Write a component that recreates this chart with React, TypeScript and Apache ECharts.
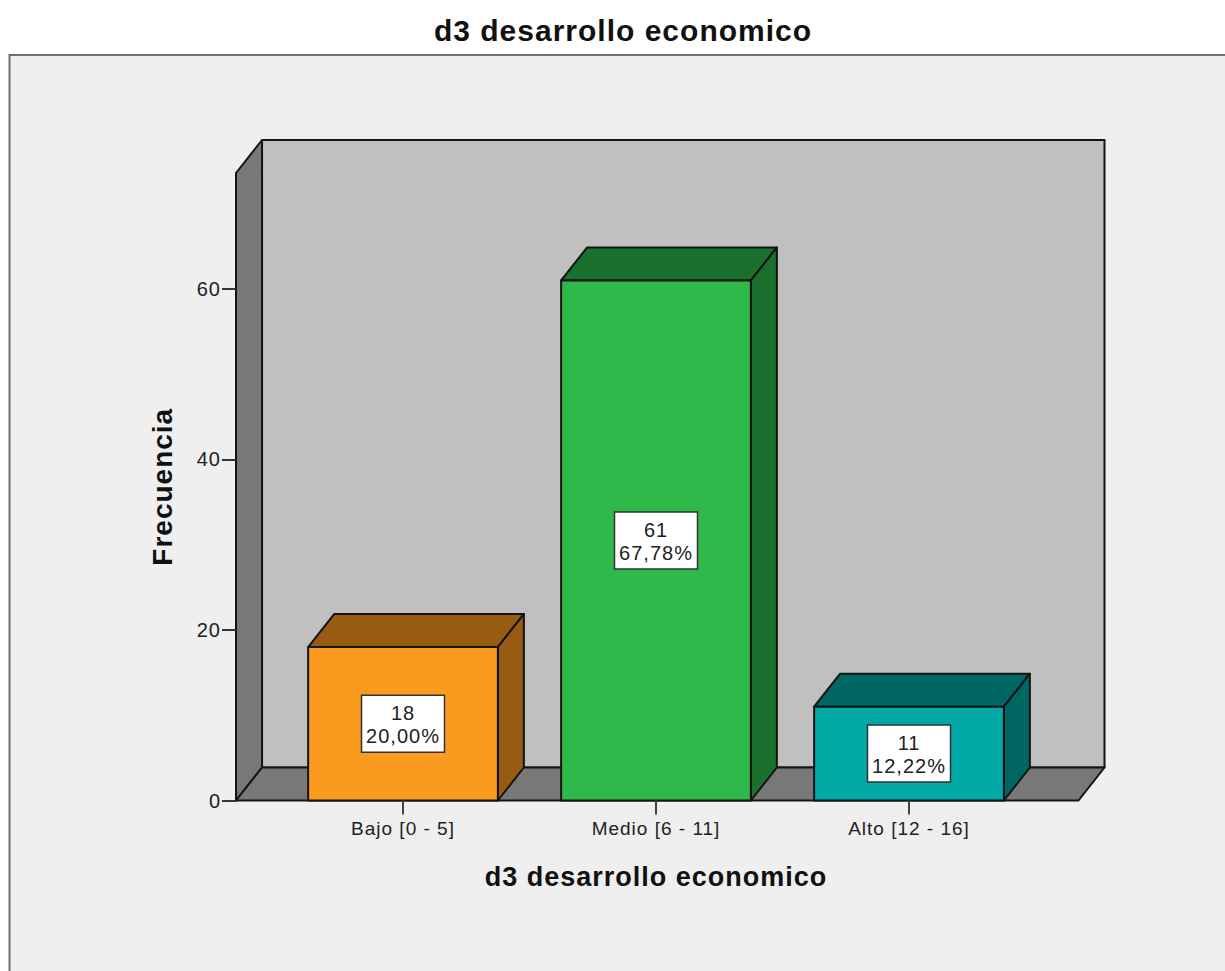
import React, { useEffect, useRef } from "react";
import * as echarts from "echarts";

const categories = ["Bajo [0 - 5]", "Medio [6 - 11]", "Alto [12 - 16]"];
const counts = [18, 61, 11];
const percents = ["20,00%", "67,78%", "12,22%"];
const yTicks = [0, 20, 40, 60];
const titleText = "d3 desarrollo economico";
const yName = "Frecuencia";

const frontColors = ["#fa9a1e", "#2fb94a", "#00a8a6"];
const sideColors = ["#975c12", "#1c702d", "#006663"];
const FONT = "'Liberation Sans', Arial, sans-serif";
const DX = 26;
const DY = -33;
const BLACK = "#141414";

export default function App() {
  const ref = useRef<HTMLDivElement>(null);
  useEffect(() => {
    const chart = echarts.init(ref.current!, undefined, { renderer: "svg" });
    chart.setOption({
      animation: false,
      backgroundColor: "#ffffff",
      title: {
        text: titleText,
        left: 618,
        top: 10,
        textAlign: "center",
        textStyle: { fontFamily: FONT, fontSize: 30, fontWeight: "bold", color: "#111" },
      },
      graphic: [
        {
          type: "rect",
          z: -10,
          shape: { x: 9.5, y: 55, width: 1300, height: 1000 },
          style: { fill: "#efefef", stroke: "#707070", lineWidth: 2 },
        },
      ],
      grid: { left: 276.5, width: 759, top: 173, height: 627.5 },
      xAxis: {
        type: "category",
        data: categories,
        z: 5,
        axisLine: { show: false },
        axisTick: { show: true, alignWithLabel: true, length: 14, lineStyle: { color: "#444", width: 2 } },
        axisLabel: { margin: 18, fontFamily: FONT, fontSize: 19, color: "#222" },
        name: titleText,
        nameLocation: "middle",
        nameGap: 63,
        nameTextStyle: { fontFamily: FONT, fontSize: 27, fontWeight: "bold", color: "#111" },
      },
      yAxis: {
        type: "value",
        min: 0,
        max: 73.6,
        offset: 40.5,
        z: 5,
        splitLine: { show: false },
        axisLine: { show: true, lineStyle: { color: BLACK, width: 2 } },
        axisTick: { show: true, length: 14, customValues: yTicks, lineStyle: { color: "#333", width: 2 } },
        axisLabel: { margin: 15, customValues: yTicks, fontFamily: FONT, fontSize: 20, color: "#222" },
        name: yName,
        nameLocation: "middle",
        nameGap: 60,
        nameTextStyle: { fontFamily: FONT, fontSize: 28, fontWeight: "bold", color: "#111" },
      },
      series: [
        {
          type: "custom",
          name: "walls",
          z: 1,
          silent: true,
          data: [[0, 0]],
          renderItem: (_p: any, api: any) => {
            const band = api.size([1, 0])[0];
            const base = api.coord([0, 0]);
            const top = api.coord([0, 73.6]);
            const l = base[0] - band * 0.66;
            const r = api.coord([2, 0])[0] + band * 0.67;
            const b = base[1];
            const t = top[1];
            const stroke = { stroke: BLACK, lineWidth: 2, lineJoin: "round" };
            return {
              type: "group",
              children: [
                { type: "polygon", shape: { points: [[l + DX, t + DY], [r + DX, t + DY], [r + DX, b + DY], [l + DX, b + DY]] }, style: { fill: "#c0c0c0", ...stroke } },
                { type: "polygon", shape: { points: [[l, t], [l + DX, t + DY], [l + DX, b + DY], [l, b]] }, style: { fill: "#787878", ...stroke } },
                { type: "polygon", shape: { points: [[l, b], [l + DX, b + DY], [r + DX, b + DY], [r, b]] }, style: { fill: "#787878", ...stroke } },
              ],
            };
          },
        },
        {
          type: "custom",
          name: "Frecuencia",
          z: 3,
          data: counts.map((v, i) => [i, v]),
          renderItem: (p: any, api: any) => {
            const i = p.dataIndex;
            const band = api.size([1, 0])[0];
            const w = band * 0.75;
            const top = api.coord([i, api.value(1)]);
            const base = api.coord([i, 0]);
            const l = top[0] - w / 2;
            const r = top[0] + w / 2;
            const t = top[1];
            const b = base[1];
            const stroke = { stroke: BLACK, lineWidth: 2, lineJoin: "round" };
            const cx = top[0];
            const cy = (t + b) / 2;
            return {
              type: "group",
              children: [
                { type: "polygon", shape: { points: [[l, t], [l + DX, t + DY], [r + DX, t + DY], [r, t]] }, style: { fill: sideColors[i], ...stroke } },
                { type: "polygon", shape: { points: [[r, t], [r + DX, t + DY], [r + DX, b + DY], [r, b]] }, style: { fill: sideColors[i], ...stroke } },
                { type: "rect", shape: { x: l, y: t, width: r - l, height: b - t }, style: { fill: frontColors[i], ...stroke } },
                { type: "rect", shape: { x: cx - 41.5, y: cy - 28.5, width: 83, height: 57 }, style: { fill: "#ffffff", stroke: "#333", lineWidth: 1.5 } },
                {
                  type: "text",
                  x: cx,
                  y: cy + 1,
                  style: {
                    text: `${counts[i]}\n${percents[i]}`,
                    fontFamily: FONT,
                    fontSize: 20,
                    lineHeight: 23,
                    fill: "#222",
                    align: "center",
                    verticalAlign: "middle",
                  },
                },
              ],
            };
          },
        },
      ],
    });
    return () => chart.dispose();
  }, []);
  return <div ref={ref} style={{ position: "absolute", left: 0, top: 0, width: 1225, height: 971, letterSpacing: "1px" }} />;
}
